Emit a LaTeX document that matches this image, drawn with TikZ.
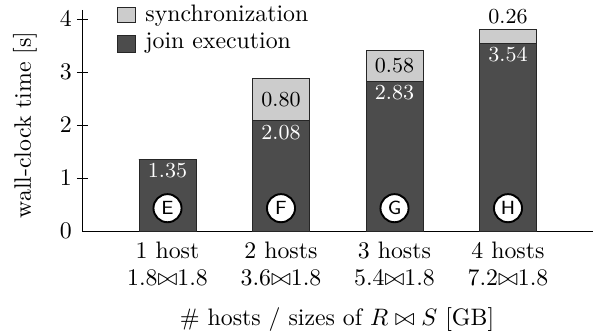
\documentclass[tikz,border=0pt]{standalone}
\usepackage{amssymb}

\begin{document}
\begin{tikzpicture}[x=0.42pt, y=22.26pt]
    \tikzstyle{joinbar} = [draw=black!85, fill=black!70]
    \tikzstyle{syncbar} = [draw=black!85, fill=black!20]
    \tikzstyle{val} = [inner sep=1.5pt, font=\small]
    \tikzstyle{tag} = [shape=circle, draw=black, fill=white, thick, inner sep=0pt, minimum size=11.8pt, font=\footnotesize\sffamily]
    \useasboundingbox (0, -1.943) rectangle (595, 4.358);

    % 坐标轴
    \draw (82, 4.17) -- (82, 0) -- (593, 0);
    \foreach \y in {1,...,4}
        \draw (77, \y) -- (88, \y);
    \foreach \y in {0,...,4}
        \path (77, \y) node [left, inner sep=2pt, name=y\y] {$\y$};
    \path (25, 2) node [rotate=90, name=ylab] {wall-clock time [s]};

    % 柱子: 中心 / join / 总高 / 标记
    \foreach \i/\x/\j/\t/\m in {1/167.5/1.35/1.35/E, 2/281/2.08/2.88/F, 3/394.5/2.83/3.41/G, 4/508/3.54/3.80/H} {
        \draw [syncbar] (\x-28.5, \j) rectangle (\x+28.5, \t);
        \draw [joinbar] (\x-28.5, 0) rectangle (\x+28.5, \j);
        \path (\x, \j) node [val, anchor=north, text=white, name=j\i] {\j}
              (\x, 0.43) node [tag, name=m\i] {\m};
    }
    \path   (281, 2.48) node [val, name=s2] {0.80}
            (394.5, 3.12) node [val, name=s3] {0.58}
            (508, 3.80) node [val, anchor=south, inner sep=2pt, name=s4] {0.26};

    % 横轴标签
    \path   (167.5, -0.36) node [name=h1] {1 host}
            (281, -0.36) node [name=h2] {2 hosts}
            (394.5, -0.36) node [name=h3] {3 hosts}
            (508, -0.36) node [name=h4] {4 hosts}
            (167.5, -0.89) node [name=g1] {$1.8{\bowtie}1.8$}
            (281, -0.89) node [name=g2] {$3.6{\bowtie}1.8$}
            (394.5, -0.89) node [name=g3] {$5.4{\bowtie}1.8$}
            (508, -0.89) node [name=g4] {$7.2{\bowtie}1.8$}
            (337, -1.68) node [name=xlab] {\# hosts / sizes of $R \bowtie S$ [GB]};

    % 图例
    \draw [syncbar] (117, 3.925) rectangle (135, 4.208);
    \draw [joinbar] (117, 3.377) rectangle (135, 3.698);
    \path   (137, 4.066) node [anchor=west, name=lsync] {synchronization}
            (137, 3.537) node [anchor=west, name=ljoin] {join execution};
\end{tikzpicture}
\end{document}
